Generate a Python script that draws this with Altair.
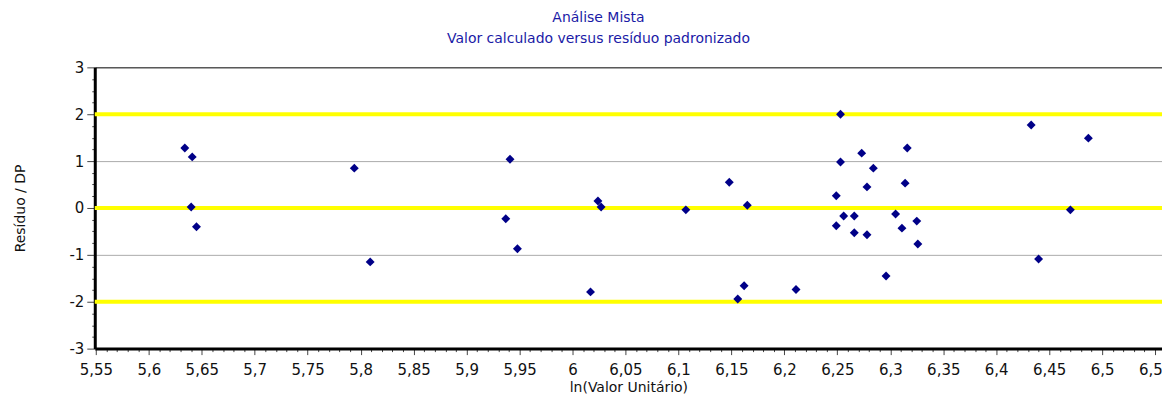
import altair as alt
import pandas as pd

# Data
LN_VALOR = [5.634, 5.641, 5.640, 5.645, 5.794, 5.809, 5.941, 5.937, 5.948,
            6.024, 6.027, 6.017, 6.162, 6.156, 6.211, 6.107, 6.148, 6.165,
            6.296, 6.253, 6.253, 6.273, 6.284, 6.278, 6.249, 6.256, 6.266,
            6.249, 6.266, 6.278, 6.316, 6.314, 6.305, 6.311, 6.325, 6.326,
            6.433, 6.487, 6.470, 6.440]
RESIDUO = [1.28, 1.09, 0.02, -0.40, 0.85, -1.15, 1.04, -0.23, -0.87,
           0.15, 0.02, -1.79, -1.66, -1.94, -1.74, -0.04, 0.55, 0.06,
           -1.45, 2.00, 0.98, 1.17, 0.85, 0.45, 0.26, -0.17, -0.17,
           -0.38, -0.53, -0.57, 1.28, 0.53, -0.13, -0.43, -0.28, -0.77,
           1.77, 1.49, -0.04, -1.09]
LIMITES = [-2, 0, 2]

X_DOMAIN = [5.549, 6.5565]
X_TICKS = [round(5.55 + 0.01 * i, 2) for i in range(101)]   # minor every 0.01, labelled every 0.05
Y_DOMAIN = [-3, 3]
Y_TICKS = [-3 + 0.25 * i for i in range(25)]                 # minor every 0.25, labelled at integers

TITLE = ["Análise Mista", "Valor calculado versus resíduo padronizado"]
X_TITLE = "ln(Valor Unitário)"
Y_TITLE = "Resíduo / DP"

FONT = "DejaVu Sans"

df = pd.DataFrame({"x": LN_VALOR, "y": RESIDUO})
lim = pd.DataFrame({"y": LIMITES})

xscale = alt.Scale(domain=X_DOMAIN, nice=False, zero=False)
yscale = alt.Scale(domain=Y_DOMAIN, nice=False, zero=False)

x_major = "abs(datum.value*20 - round(datum.value*20)) < 0.000001"
y_major = "datum.value == round(datum.value)"

x_axis = alt.Axis(
    values=X_TICKS,
    title=X_TITLE,
    labelExpr=f"{x_major} ? replace(format(datum.value, '.2~f'), '.', ',') : ''",
    labelOverlap=False,
    labelFlush=False,
    labelBound=False,
    labelFont=FONT,
    labelFontSize=15,
    labelColor="#111111",
    labelPadding=8,
    tickSize={"condition": {"test": x_major, "value": 6}, "value": 3},
    tickColor="#444444",
    domainColor="#000000",
    domainWidth=3,
    grid=False,
    titleFont=FONT,
    titleFontSize=14,
    titleFontWeight="normal",
    titleColor="#111111",
    titlePadding=3,
)

y_axis = alt.Axis(
    values=Y_TICKS,
    title=Y_TITLE,
    labelExpr=f"{y_major} ? toString(datum.value) : ''",
    labelOverlap=False,
    labelFlush=False,
    labelBound=False,
    labelFont=FONT,
    labelFontSize=15,
    labelColor="#111111",
    labelPadding=3,
    tickSize={"condition": {"test": y_major, "value": 8}, "value": 3},
    tickColor="#444444",
    domainColor="#000000",
    domainWidth=3,
    grid=True,
    gridOpacity={"condition": {"test": y_major, "value": 1}, "value": 0},
    gridColor={"condition": {"test": "datum.value == 3", "value": "#000000"}, "value": "#ababab"},
    gridWidth=1,
    titleFont=FONT,
    titleFontSize=14,
    titleFontWeight="normal",
    titleColor="#111111",
    titlePadding=42,
)

rules = alt.Chart(lim).mark_rule(color="#ffff00", strokeWidth=4).encode(
    y=alt.Y("y:Q", scale=yscale, axis=y_axis)
)

points = alt.Chart(df).mark_point(
    shape="diamond", filled=True, size=80, color="#000088", opacity=1
).encode(
    x=alt.X("x:Q", scale=xscale, axis=x_axis),
    y=alt.Y("y:Q", scale=yscale, axis=y_axis),
)

chart = alt.layer(rules, points).properties(
    width=1070,
    height=282,
    autosize=alt.AutoSizeParams(type="none"),
    padding={"left": 87, "top": 59, "right": 0, "bottom": 45},
    title=alt.TitleParams(
        TITLE,
        color="#1a1aa6",
        font=FONT,
        fontSize=14,
        fontWeight="normal",
        anchor="middle",
        dx=-30,
        offset=14,
        lineHeight=21,
    ),
).configure(background="white").configure_view(stroke=None)

chart.save("out.html", embed_options={"renderer": "svg", "actions": False})
